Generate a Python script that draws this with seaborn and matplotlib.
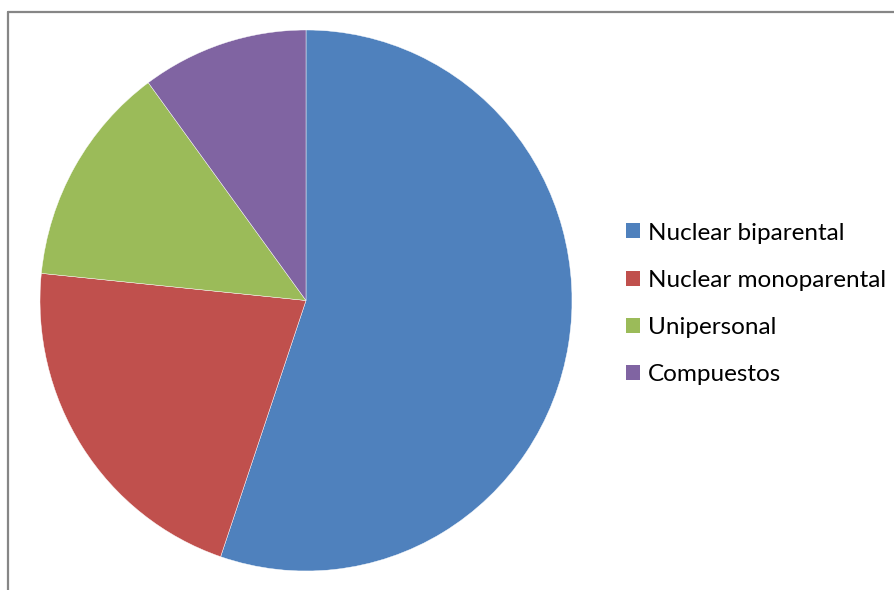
import matplotlib
matplotlib.use("Agg")
import matplotlib.pyplot as plt
import seaborn as sns
from matplotlib.patches import Patch
from matplotlib.lines import Line2D

categories = ["Nuclear biparental", "Nuclear monoparental", "Unipersonal", "Compuestos"]
values = [55.2, 21.4, 13.3, 10.1]
colors = ["#4F81BD", "#C0504D", "#9BBB59", "#8064A2"]

sns.set_theme(style="white")
plt.rcParams['font.family'] = ['Lato', 'DejaVu Sans']

W, H = 894, 590
fig = plt.figure(figsize=(W / 100, H / 100), dpi=100)
cx, cy, rx, ry = 306, 300.5, 266, 270.5
ax = fig.add_axes([(cx - rx) / W, (H - cy - ry) / H, 2 * rx / W, 2 * ry / H])
ax.pie(values, colors=colors, startangle=90, counterclock=False, radius=1,
       wedgeprops=dict(linewidth=0.3, edgecolor="white"))
ax.set_aspect("auto")
ax.set_xlim(-1, 1)
ax.set_ylim(-1, 1)
ax.axis("off")

# chart frame (left and top borders visible)
fx, fy = 7.5 / W, 1 - 11.5 / H
fig.add_artist(Line2D([fx, fx], [0, fy], transform=fig.transFigure, color="#868686", lw=1.6))
fig.add_artist(Line2D([fx, 1], [fy, fy], transform=fig.transFigure, color="#868686", lw=1.6))

handles = [Patch(facecolor=c, edgecolor="none") for c in colors]
leg = fig.legend(handles, categories, loc="upper left",
                 bbox_to_anchor=(625.5 / W, 1 - 222.5 / H), frameon=False,
                 fontsize=17.5, handlelength=0.58, handleheight=0.58,
                 handletextpad=0.35, labelspacing=1.08, borderpad=0, borderaxespad=0)
for t in leg.get_texts():
    t.set_color("black")

fig.savefig("out.png", dpi=100, facecolor="white")
